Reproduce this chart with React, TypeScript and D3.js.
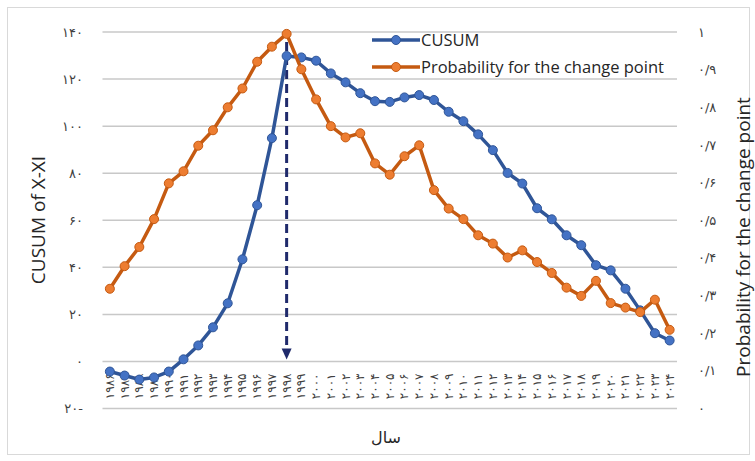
import * as d3 from "d3";

// years on the category axis
const years = d3.range(1986, 2025);

// CUSUM of X-XI (left axis)
const cusum = [
  -4.3, -6.0, -7.7, -6.8, -4.3, 0.9, 6.8, 14.5, 24.7, 43.4, 66.4, 94.9, 129.8,
  129.2, 127.8, 122.4, 118.6, 114.0, 110.6, 110.3, 112.2, 113.2, 111.1, 106.1,
  102.1, 96.5, 89.8, 80.1, 75.6, 65.1, 60.4, 53.6, 49.4, 40.9, 38.7, 30.9,
  21.7, 12.0, 8.9,
];

// probability for the change point (right axis)
const prob = [
  0.318, 0.378, 0.429, 0.503, 0.598, 0.63, 0.698, 0.739, 0.8, 0.85, 0.921,
  0.961, 0.995, 0.901, 0.821, 0.75, 0.72, 0.731, 0.651, 0.621, 0.67, 0.699,
  0.58, 0.531, 0.503, 0.46, 0.438, 0.401, 0.42, 0.389, 0.36, 0.321, 0.299,
  0.339, 0.28, 0.268, 0.256, 0.289, 0.209,
];

const leftTicks = [-20, 0, 20, 40, 60, 80, 100, 120, 140];
const rightTicks = [0, 0.1, 0.2, 0.3, 0.4, 0.5, 0.6, 0.7, 0.8, 0.9, 1];
const changeYear = 1998;

const W = 755;
const H = 461;
const plot = { left: 102.5, right: 677, top: 32, bottom: 408.5 };

const BLUE = "#2F5597";
const BLUE_FILL = "#4472C4";
const ORANGE = "#C55A11";
const ORANGE_FILL = "#ED7D31";
const FA = "'DejaVu Sans', sans-serif";
const EN = "'Open Sans', sans-serif";

const faDigits = "۰۱۲۳۴۵۶۷۸۹";
const toFa = (s: string) => s.replace(/[0-9]/g, (d) => faDigits[+d]);

export default function App() {
  const x = d3
    .scaleBand<number>()
    .domain(years)
    .range([plot.left, plot.right]);
  const cx = (yr: number) => (x(yr) ?? 0) + x.bandwidth() / 2;
  const yL = d3.scaleLinear().domain([-20, 140]).range([plot.bottom, plot.top]);
  const yR = d3.scaleLinear().domain([0, 1]).range([plot.bottom, plot.top]);

  const lineL = d3
    .line<number>()
    .x((_, i) => cx(years[i]))
    .y((d) => yL(d));
  const lineR = d3
    .line<number>()
    .x((_, i) => cx(years[i]))
    .y((d) => yR(d));

  const ax = cx(changeYear);
  const arrowTop = yR(1) + 10;
  const arrowTip = yL(0) - 2;

  const leftLabel = (v: number) =>
    v < 0 ? toFa(String(-v)) + "-" : toFa(String(v));
  const rightLabel = (v: number) =>
    v === 0 || v === 1 ? toFa(String(v)) : toFa(v.toFixed(1).replace(".", "/"));

  return (
    <svg
      width={W}
      height={H}
      style={{ position: "absolute", left: 0, top: 0, background: "#fff" }}
    >
      <rect x={7.5} y={7.5} width={742} height={447} fill="#fff" stroke="#d9d9d9" />

      {/* gridlines */}
      {leftTicks.map((t) => (
        <line
          key={t}
          x1={plot.left}
          x2={plot.right}
          y1={yL(t)}
          y2={yL(t)}
          stroke="#c8c8c8"
          strokeWidth={1.5}
        />
      ))}

      {/* left tick labels */}
      {leftTicks.map((t) => (
        <text
          key={t}
          x={83}
          y={yL(t)}
          dy="0.35em"
          textAnchor="end"
          fontFamily={FA}
          fontSize={13}
          fill="#404040"
        >
          {leftLabel(t)}
        </text>
      ))}

      {/* right tick labels */}
      {rightTicks.map((t) => (
        <text
          key={t}
          x={698}
          y={yR(t)}
          dy="0.35em"
          textAnchor="start"
          fontFamily={FA}
          fontSize={13}
          fill="#404040"
        >
          {rightLabel(t)}
        </text>
      ))}

      {/* category labels */}
      {years.map((yr) => (
        <text
          key={yr}
          transform={`translate(${cx(yr) + 4},${yL(0) + 12}) rotate(-90)`}
          textAnchor="end"
          fontFamily={FA}
          fontSize={12}
          fill="#404040"
        >
          {toFa(String(yr))}
        </text>
      ))}

      {/* change point arrow */}
      <line
        x1={ax}
        x2={ax}
        y1={arrowTop}
        y2={arrowTip - 10}
        stroke="#1F2A6B"
        strokeWidth={3}
        strokeDasharray="9 5"
      />
      <path
        d={`M${ax - 5},${arrowTip - 11} L${ax + 5},${arrowTip - 11} L${ax},${arrowTip} Z`}
        fill="#1F2A6B"
      />

      {/* series */}
      <path d={lineL(cusum) ?? ""} fill="none" stroke={BLUE} strokeWidth={3.5} strokeLinejoin="round" />
      {cusum.map((v, i) => (
        <circle key={i} cx={cx(years[i])} cy={yL(v)} r={4.5} fill={BLUE_FILL} stroke={BLUE} strokeWidth={1} />
      ))}
      <path d={lineR(prob) ?? ""} fill="none" stroke={ORANGE} strokeWidth={3.5} strokeLinejoin="round" />
      {prob.map((v, i) => (
        <circle key={i} cx={cx(years[i])} cy={yR(v)} r={4.5} fill={ORANGE_FILL} stroke={ORANGE} strokeWidth={1} />
      ))}

      {/* legend */}
      {[
        { name: "CUSUM", stroke: BLUE, fill: BLUE_FILL, y: 40 },
        { name: "Probability for the change point", stroke: ORANGE, fill: ORANGE_FILL, y: 67 },
      ].map((l) => (
        <g key={l.name}>
          <line x1={372} x2={420} y1={l.y} y2={l.y} stroke={l.stroke} strokeWidth={3.5} />
          <circle cx={396} cy={l.y} r={4.5} fill={l.fill} stroke={l.stroke} />
          <text x={421} y={l.y} dy="0.35em" fontFamily={EN} fontSize={16.5} fill="#262626">
            {l.name}
          </text>
        </g>
      ))}

      {/* axis titles */}
      <text
        transform={`translate(38,220) rotate(-90)`}
        textAnchor="middle"
        dy="0.35em"
        fontFamily={EN}
        fontSize={19}
        fill="#262626"
      >
        CUSUM of X-XI
      </text>
      <text
        transform={`translate(743,237) rotate(-90)`}
        textAnchor="middle"
        dy="0.35em"
        fontFamily={EN}
        fontSize={19}
        fill="#262626"
      >
        Probability for the change point
      </text>
      <text x={386} y={437} dy="0.35em" textAnchor="middle" fontFamily={FA} fontSize={16} fill="#262626">
        سال
      </text>
    </svg>
  );
}
